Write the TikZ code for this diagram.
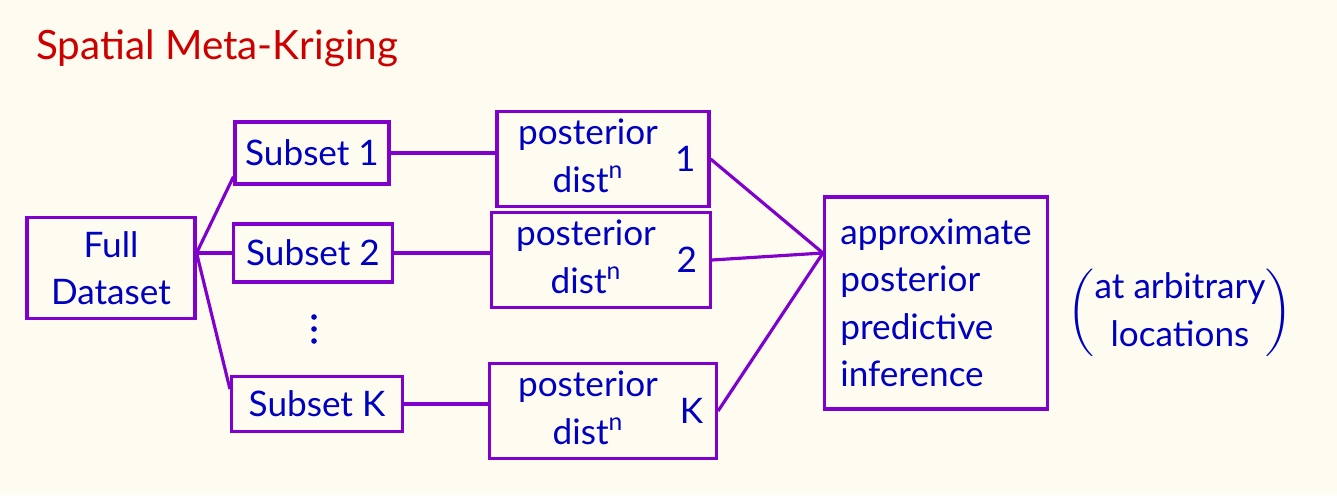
\documentclass[tikz,border=0pt]{standalone}
\usepackage{fontspec}
\setmainfont{Lato}
\usepackage{amsmath}
\usetikzlibrary{positioning}

\definecolor{paper}{HTML}{FEFCF0}
\definecolor{boxpurple}{HTML}{8000CC}
\definecolor{inkblue}{HTML}{0000C0}
\definecolor{titlered}{HTML}{CC0000}

\newcommand{\postdist}{\begin{tabular}{@{}c@{}}posterior\\dist\textsuperscript{n}\end{tabular}\hspace{0.6cm}}

\tikzset{
  ink/.style={text=inkblue, font=\fontsize{20}{27}\selectfont},
  databox/.style={ink, draw=boxpurple, line width=1.8pt, inner sep=0pt, align=center},
  link/.style={draw=boxpurple, line width=1.8pt},
  num/.style={ink, anchor=east, xshift=-5pt}
}

\begin{document}
\begin{tikzpicture}
\fill[paper] (0,0) rectangle (26.74,9.9);
\useasboundingbox (0,0) rectangle (26.74,9.9);
\node[anchor=west, text=titlered, font=\fontsize{23}{27}\selectfont] (title) at (0.6,8.94) {Spatial Meta-Kriging};
\node[databox, minimum width=3.36cm, minimum height=2.02cm] (full) at (2.22,4.54) {Full\\Dataset};
\node[databox, minimum width=3.08cm, minimum height=1.24cm] (s1) at (6.24,6.84) {Subset 1};
\node[databox, minimum width=3.18cm, minimum height=1.16cm] (s2) at (6.26,4.84) {Subset 2};
\coordinate (dots) at (6.28,3.32);
\foreach \d in {-0.24,0,0.24} {
\fill[inkblue] ([yshift=\d cm]dots) circle (1.6pt);
}
\node[databox, minimum width=3.42cm, minimum height=1.10cm] (sK) at (6.34,1.82) {Subset K};
\node[databox, minimum width=4.24cm, minimum height=1.60cm, label={[num]east:1}] (p1) at (12.06,6.72) {\postdist};
\node[databox, minimum width=4.38cm, minimum height=1.58cm, label={[num]east:2}] (p2) at (12.02,4.70) {\postdist};
\node[databox, minimum width=4.54cm, minimum height=1.80cm, label={[num]east:K}] (pK) at (12.06,1.68) {\postdist};
\node[databox, minimum width=4.46cm, minimum height=4.24cm, align=left] (ap) at (18.72,3.84) {approximate\\posterior\\predictive\\inference};
\node[ink] (loc) at (23.6,3.64) {$\left(\begin{tabular}{@{}c@{}}at arbitrary\\locations\end{tabular}\right)$};
\coordinate (fork) at (full.east |- s2.west);
\draw[link] (fork) -- ([yshift=5pt]s1.south west);
\draw[link] (fork) -- (s2.west);
\draw[link] (fork) -- ([yshift=-8pt]sK.north west);
\draw[link] (s1.east) -- (s1.east -| p1.west);
\draw[link] (s2.east) -- (s2.east -| p2.west);
\draw[link] (sK.east) -- (sK.east -| pK.west);
\coordinate (join) at ([yshift=1cm]ap.west);
\foreach \p in {p1,p2,pK} {
\draw[link] (\p.east) -- (join);
}
\end{tikzpicture}
\end{document}
